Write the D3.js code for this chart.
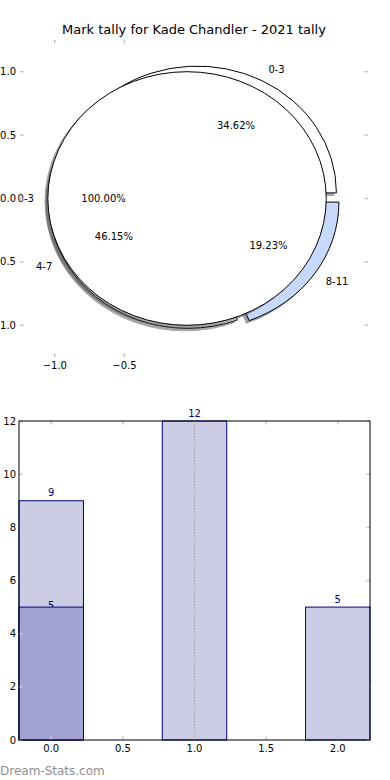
<!DOCTYPE html>
<html>
<head>
<meta charset="utf-8">
<script src="https://cdn.jsdelivr.net/npm/d3@7"></script>
<style>
  body { margin: 0; background: #fff; }
  svg { display: block; font-family: 'DejaVu Sans', sans-serif; }
</style>
</head>
<body>
<svg id="chart" width="390" height="780"></svg>
<script>
'use strict';

// data
var chartTitle = 'Mark tally for Kade Chandler - 2021 tally';
var categories = ['0-3', '4-7', '8-11'];
var allTally = [9, 12, 5];
var allColors = ['#ffffff', '#ffffff', '#c6d9fd'];
var yearCategories = ['0-3'];
var yearTally = [5];
var yearColors = ['#ffffff'];
var barPositions = [0, 1, 2];
var yearBarPositions = [0];
var pieTicksX = [-1.0, -0.5];
var pieTicksY = [1.0, 0.5, 0.0, -0.5, -1.0];
var barTicksX = [0, 0.5, 1.0, 1.5, 2.0];
var barTicksY = [0, 2, 4, 6, 8, 10, 12];
var markerLine = 1.0;
var watermark = 'Dream-Stats.com';

var svg = d3.select('#chart');
var tickColor = '#c4c4c4';
var fmtTick = function(v) {return d3.format('.1f')(v).replace('-', '\u2212');};

svg.append('text')
	.attr('x', 194).attr('y', 34)
	.attr('text-anchor', 'middle')
	.style('font-size', '13px')
	.text(chartTitle);

// ---------- pie axes ----------
var px = d3.scaleLinear().domain([-1.25, 1.25]).range([20, 368]);
var py = d3.scaleLinear().domain([-1.25, 1.25]).range([357, 40]);
var kx = px(1) - px(0), ky = py(0) - py(1);
var explode = 0.05, shadowOff = -0.02;

var pieGen = d3.pie().sort(null).startAngle(Math.PI / 2).endAngle(Math.PI / 2 - 2 * Math.PI);
var arcGen = d3.arc().innerRadius(0).outerRadius(1);

var pieLayer = svg.append('g');
var pieText = svg.append('g');

function shade(c) {
	var rgb = d3.rgb(c);
	return d3.rgb(rgb.r * 0.3, rgb.g * 0.3, rgb.b * 0.3).toString();}

function drawPie(values, labels, colors) {
	var total = d3.sum(values);
	pieGen(values).forEach(function(d, i) {
		var mid = (d.startAngle + d.endAngle) / 2;
		var ux = Math.sin(mid), uy = Math.cos(mid);
		var cx = explode * ux, cy = explode * uy;

		pieLayer.append('path')
			.attr('d', arcGen(d))
			.attr('transform', 'translate(' + px(cx + shadowOff) + ',' + py(cy + shadowOff) + ') scale(' + kx + ',' + ky + ')')
			.attr('fill', shade(colors[i]))
			.attr('stroke', shade(colors[i]))
			.attr('stroke-width', 1)
			.attr('vector-effect', 'non-scaling-stroke')
			.attr('opacity', 0.5);

		pieLayer.append('path')
			.attr('d', arcGen(d))
			.attr('transform', 'translate(' + px(cx) + ',' + py(cy) + ') scale(' + kx + ',' + ky + ')')
			.attr('fill', colors[i])
			.attr('stroke', '#000')
			.attr('stroke-width', 1)
			.attr('vector-effect', 'non-scaling-stroke');

		var lx = cx + 1.1 * ux, ly = cy + 1.1 * uy;
		pieText.append('text')
			.attr('x', px(lx)).attr('y', py(ly)).attr('dy', '0.35em')
			.attr('text-anchor', lx > 0 ? 'start' : 'end')
			.style('font-size', '10px')
			.text(labels[i]);

		pieText.append('text')
			.attr('x', px(cx + 0.6 * ux)).attr('y', py(cy + 0.6 * uy)).attr('dy', '0.35em')
			.attr('text-anchor', 'middle')
			.style('font-size', '10px')
			.text(d3.format('.2f')(values[i] / total * 100) + '%');
	});
}

drawPie(allTally, categories, allColors);
drawPie(yearTally, yearCategories, yearColors);

// pie axis ticks (no spines)
var pTicks = svg.append('g').attr('stroke', tickColor).attr('stroke-width', 1.5);
pieTicksX.forEach(function(t) {
	pTicks.append('line').attr('x1', px(t)).attr('x2', px(t)).attr('y1', py.range()[1]).attr('y2', py.range()[1] + 3.5);
	pTicks.append('line').attr('x1', px(t)).attr('x2', px(t)).attr('y1', py.range()[0]).attr('y2', py.range()[0] - 3.5);
	svg.append('text').attr('x', px(t)).attr('y', py.range()[0] + 12)
		.attr('text-anchor', 'middle').style('font-size', '10px').text(fmtTick(t));
});
pieTicksY.forEach(function(t) {
	pTicks.append('line').attr('x1', px.range()[0]).attr('x2', px.range()[0] + 3.5).attr('y1', py(t)).attr('y2', py(t));
	pTicks.append('line').attr('x1', px.range()[1]).attr('x2', px.range()[1] - 3.5).attr('y1', py(t)).attr('y2', py(t));
	svg.append('text').attr('x', 16).attr('y', py(t)).attr('dy', '0.35em')
		.attr('text-anchor', 'end').style('font-size', '10px').text(fmtTick(t));
});

// ---------- bar axes ----------
var bx = d3.scaleLinear().domain([-0.225, 2.225]).range([19, 370]);
var by = d3.scaleLinear().domain([0, 12]).range([740, 421]);
var barWidth = 0.45;

var bars = svg.append('g');
bars.selectAll('rect.all').data(allTally).enter().append('rect')
	.attr('x', function(d, i) {return bx(barPositions[i] - barWidth / 2);})
	.attr('y', function(d) {return by(d);})
	.attr('width', bx(barWidth) - bx(0))
	.attr('height', function(d) {return by(0) - by(d);})
	.attr('fill', '#ccccE5')
	.attr('stroke', '#000080')
	.attr('stroke-width', 1);

bars.selectAll('text.all').data(allTally).enter().append('text')
	.attr('x', function(d, i) {return bx(barPositions[i]);})
	.attr('y', function(d) {return by(d) - 4.5;})
	.attr('text-anchor', 'middle')
	.attr('fill', '#000080')
	.style('font-size', '10px')
	.text(function(d) {return d;});

bars.selectAll('text.year').data(yearTally).enter().append('text')
	.attr('x', function(d, i) {return bx(yearBarPositions[i]);})
	.attr('y', function(d) {return by(d) + 1.5;})
	.attr('text-anchor', 'middle')
	.attr('fill', '#000080')
	.style('font-size', '10px')
	.text(function(d) {return d;});

bars.selectAll('rect.year').data(yearTally).enter().append('rect')
	.attr('x', function(d, i) {return bx(yearBarPositions[i] - barWidth / 2);})
	.attr('y', function(d) {return by(d);})
	.attr('width', bx(barWidth) - bx(0))
	.attr('height', function(d) {return by(0) - by(d);})
	.attr('fill', '#a3a3d2')
	.attr('stroke', '#000080')
	.attr('stroke-width', 1);

svg.append('line')
	.attr('x1', bx(markerLine)).attr('x2', bx(markerLine))
	.attr('y1', by(12)).attr('y2', by(0))
	.attr('stroke', '#aaaaaa').attr('stroke-width', 1.5)
	.attr('stroke-dasharray', '1.5,1.5');

var bTicks = svg.append('g').attr('stroke', tickColor).attr('stroke-width', 1.5);
barTicksX.forEach(function(t) {
	bTicks.append('line').attr('x1', bx(t)).attr('x2', bx(t)).attr('y1', by(12)).attr('y2', by(12) + 3.5);
	bTicks.append('line').attr('x1', bx(t)).attr('x2', bx(t)).attr('y1', by(0)).attr('y2', by(0) - 3.5);
	svg.append('text').attr('x', bx(t)).attr('y', by(0) + 12)
		.attr('text-anchor', 'middle').style('font-size', '10px').text(fmtTick(t));
});
barTicksY.forEach(function(t) {
	bTicks.append('line').attr('x1', bx.range()[0]).attr('x2', bx.range()[0] + 3.5).attr('y1', by(t)).attr('y2', by(t));
	bTicks.append('line').attr('x1', bx.range()[1]).attr('x2', bx.range()[1] - 3.5).attr('y1', by(t)).attr('y2', by(t));
	svg.append('text').attr('x', 16).attr('y', by(t)).attr('dy', '0.35em')
		.attr('text-anchor', 'end').style('font-size', '10px').text(t);
});

svg.append('rect')
	.attr('x', bx.range()[0]).attr('y', by.range()[1])
	.attr('width', bx.range()[1] - bx.range()[0])
	.attr('height', by.range()[0] - by.range()[1])
	.attr('fill', 'none').attr('stroke', '#000').attr('stroke-width', 1);

svg.append('text')
	.attr('x', 0).attr('y', 775)
	.attr('fill', '#8f8f8f')
	.style('font-size', '12px')
	.text(watermark);
</script>
</body>
</html>
